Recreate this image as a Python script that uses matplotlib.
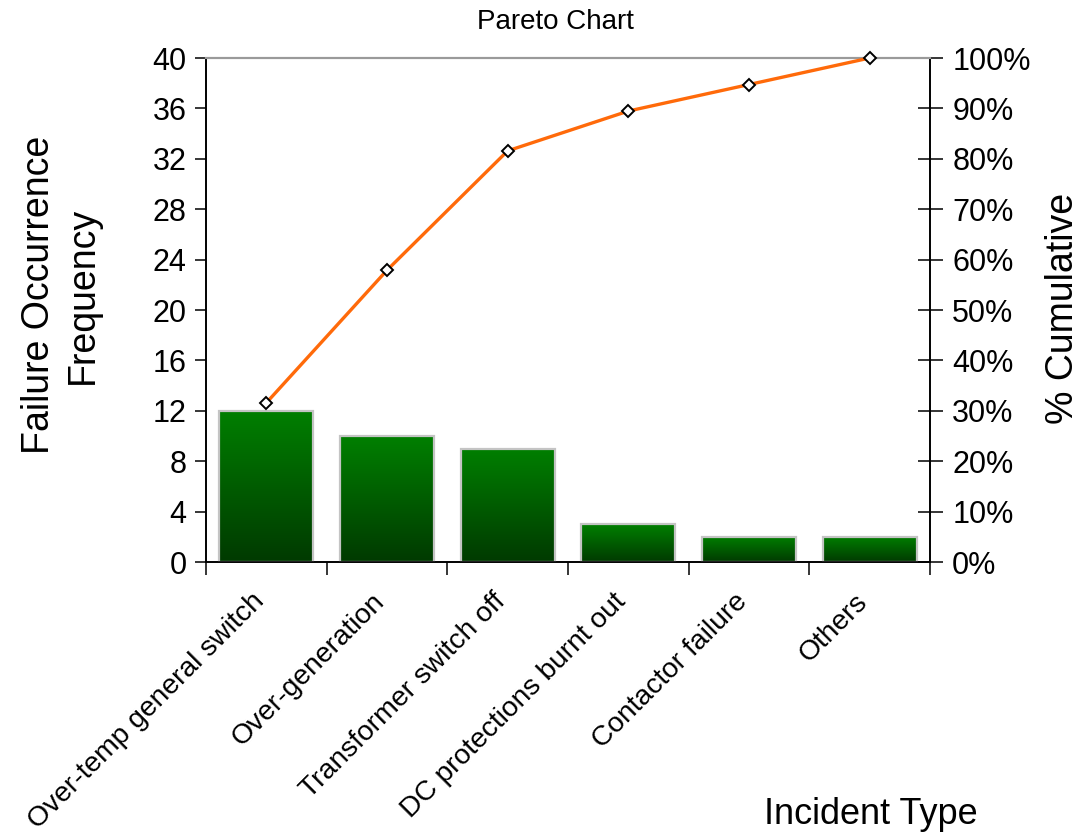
import numpy as np
import matplotlib
matplotlib.use("Agg")
import matplotlib.pyplot as plt
from matplotlib.colors import LinearSegmentedColormap
from matplotlib.ticker import FixedLocator, PercentFormatter
from matplotlib.transforms import ScaledTranslation

plt.rcParams['font.family'] = ['Liberation Sans', 'DejaVu Sans']

categories = ["Over-temp general switch", "Over-generation", "Transformer switch off",
              "DC protections burnt out", "Contactor failure", "Others"]
counts = [12, 10, 9, 3, 2, 2]
left_ticks = [0, 4, 8, 12, 16, 20, 24, 28, 32, 36, 40]
right_ticks = [0, 0.1, 0.2, 0.3, 0.4, 0.5, 0.6, 0.7, 0.8, 0.9, 1.0]

W, H = 1081, 834
fig = plt.figure(figsize=(W / 100, H / 100), dpi=100)
ax = fig.add_axes([206 / W, 1 - 562 / H, (930 - 206) / W, (562 - 58) / H])
ax2 = ax.twinx()

x = np.arange(1, len(categories) + 1)
cum = np.cumsum(counts) / np.sum(counts)

# gradient-filled bars
green = LinearSegmentedColormap.from_list("bar_green", ["#003a00", "#007f00"])
grad = np.linspace(0, 1, 256).reshape(-1, 1)
bars = ax.bar(x, counts, width=0.78, facecolor="none", edgecolor="#c4c4c4",
              linewidth=1.6, zorder=3)
for b in bars:
    x0, w, h = b.get_x(), b.get_width(), b.get_height()
    im = ax.imshow(grad, cmap=green, origin="lower", aspect="auto",
                   extent=[x0, x0 + w, 0, h], zorder=2, interpolation="bilinear")
    im.set_clip_path(b)

ax.set_xlim(0.5, len(categories) + 0.5)
ax.set_ylim(0, 40)
ax2.set_ylim(0, 1)

# cumulative line
ax2.plot(x, cum, color="#ff6a0a", linewidth=2.4, marker="D", markersize=6.5,
         markerfacecolor="white", markeredgecolor="black", markeredgewidth=1.4,
         zorder=5, clip_on=False)

# axes styling
for a in (ax, ax2):
    a.spines['top'].set_color("#9a9a9a")
    a.spines['top'].set_linewidth(1.5)
    a.spines['left'].set_linewidth(1.2)
    a.spines['right'].set_linewidth(1.2)
    a.spines['bottom'].set_linewidth(1.2)
    a.set_facecolor("none")

ax.set_yticks(left_ticks)
ax.tick_params(axis='y', direction='out', length=8, width=1.1, labelsize=22, pad=6)
ax2.set_yticks(right_ticks)
ax2.yaxis.set_major_formatter(PercentFormatter(1.0, decimals=0))
ax2.tick_params(axis='y', direction='inout', length=18, width=1.1, labelsize=22, pad=7)

ax.xaxis.set_major_locator(FixedLocator(np.arange(0.5, len(categories) + 1, 1.0)))
ax.xaxis.set_minor_locator(FixedLocator(x))
ax.set_xticklabels([], minor=False)
ax.set_xticklabels(categories, minor=True, rotation=45, ha='right',
                   rotation_mode='anchor', va='center')
ax.tick_params(axis='x', which='major', direction='out', length=9, width=1.1)
ax.tick_params(axis='x', which='minor', length=0, labelsize=20.3, pad=30)
shift = ScaledTranslation(-6 / 100, 6 / 100, fig.dpi_scale_trans)
for lbl in ax.get_xticklabels(minor=True):
    lbl.set_transform(lbl.get_transform() + shift)

fig.text(555 / W, 1 - 22 / H, "Pareto Chart", ha='center', va='center', fontsize=20)
fig.text(61 / W, 1 - 295 / H, "Failure Occurrence\nFrequency", ha='center', va='center',
         rotation=90, fontsize=27, linespacing=1.3)
fig.text(1063 / W, 1 - 308 / H, "% Cumulative", ha='center', va='center',
         rotation=90, fontsize=27)
fig.text(871 / W, 1 - 815 / H, "Incident Type", ha='center', va='center', fontsize=26)

fig.savefig("out.png", dpi=100, facecolor="white")
